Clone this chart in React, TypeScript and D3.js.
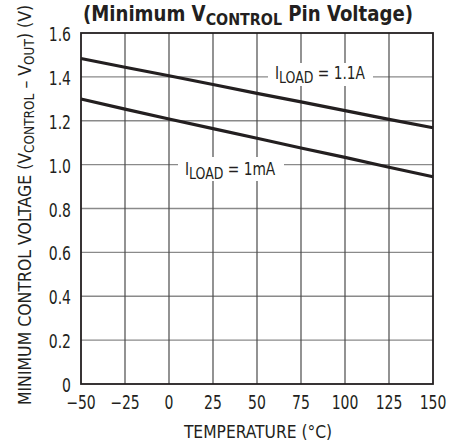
import React from "react";
import * as d3 from "d3";

const temps = [-50, -25, 0, 25, 50, 75, 100, 125, 150];
const load11A = [1.484, 1.444, 1.405, 1.365, 1.325, 1.286, 1.246, 1.206, 1.168];
const load1mA = [1.299, 1.253, 1.208, 1.164, 1.12, 1.076, 1.033, 0.988, 0.945];
const xTicks = [-50, -25, 0, 25, 50, 75, 100, 125, 150];
const yTicks = [0, 0.2, 0.4, 0.6, 0.8, 1.0, 1.2, 1.4, 1.6];

const W = 463, H = 444;
const L = 81, R = 433, T = 33, B = 384;
const FONT = "'DejaVu Sans Condensed', 'Liberation Sans Narrow', sans-serif";
const INK = "#231f20";

function ST(props: { x: number; y: number; sx?: number; anchor?: string; size: number; weight?: string; rotate?: number; children: React.ReactNode }) {
  const { x, y, sx = 1, anchor = "start", size, weight = "normal", rotate = 0, children } = props;
  return (
    <text
      transform={`translate(${x},${y}) rotate(${rotate}) scale(${sx},1)`}
      textAnchor={anchor}
      fontSize={size}
      fontWeight={weight}
      fill={INK}
    >
      {children}
    </text>
  );
}

export default function App() {
  const x = d3.scaleLinear().domain([-50, 150]).range([L, R]);
  const y = d3.scaleLinear().domain([0, 1.6]).range([B, T]);
  const line = d3.line<number>().x((_, i) => x(temps[i])).y((v) => y(v));
  const fmtY = (v: number) => (v === 0 ? "0" : v.toFixed(1));
  const fmtX = (v: number) => (v < 0 ? "\u2212" + Math.abs(v) : String(v));
  return (
    <svg width={W} height={H} style={{ position: "absolute", left: 0, top: 0, background: "#fff" }} fontFamily={FONT}>
      <rect width={W} height={H} fill="#fff" />
      {yTicks.slice(1, -1).map((t) => (
        <line key={"gy" + t} x1={L} x2={R} y1={y(t)} y2={y(t)} stroke="#8a8a8a" strokeWidth={1.3} />
      ))}
      {xTicks.slice(1, -1).map((t) => (
        <line key={"gx" + t} x1={x(t)} x2={x(t)} y1={T} y2={B} stroke="#4a4a4a" strokeWidth={1.2} />
      ))}
      <rect x={L} y={T} width={R - L} height={B - T} fill="none" stroke={INK} strokeWidth={1.8} />
      <path d={line(load11A) || ""} fill="none" stroke={INK} strokeWidth={3.2} />
      <path d={line(load1mA) || ""} fill="none" stroke={INK} strokeWidth={3.2} />

      <rect x={268} y={63} width={105} height={23} fill="#fff" />
      <ST x={275} y={79} size={17} sx={0.9}>
        I<tspan fontSize={15.5} dy={4}>LOAD</tspan><tspan dy={-4}> = 1.1A</tspan>
      </ST>
      <rect x={178} y={157} width={106} height={24} fill="#fff" />
      <ST x={185} y={175} size={17} sx={0.9}>
        I<tspan fontSize={15.5} dy={4}>LOAD</tspan><tspan dy={-4}> = 1mA</tspan>
      </ST>

      {yTicks.map((t) => (
        <ST key={"ty" + t} x={71} y={y(t) + 8} anchor="end" size={19} sx={0.82}>
          {fmtY(t)}
        </ST>
      ))}
      {xTicks.map((t) => (
        <ST key={"tx" + t} x={x(t)} y={409} anchor="middle" size={19} sx={0.82}>
          {fmtX(t)}
        </ST>
      ))}
      <ST x={258} y={438} anchor="middle" size={17.8} sx={0.97}>
        TEMPERATURE (°C)
      </ST>
      <ST x={31} y={205} anchor="middle" size={17.5} sx={1} rotate={-90}>
        MINIMUM CONTROL VOLTAGE (V<tspan fontSize={13.5} dy={3}>CONTROL</tspan><tspan dy={-3}> – V</tspan><tspan fontSize={13.5} dy={3}>OUT</tspan><tspan dy={-3}>) (V)</tspan>
      </ST>
      <ST x={248} y={21} anchor="middle" size={21} weight="bold" sx={0.96}>
        (Minimum V<tspan fontSize={16.5} dy={4}>CONTROL</tspan><tspan dy={-4}> Pin Voltage)</tspan>
      </ST>
    </svg>
  );
}
